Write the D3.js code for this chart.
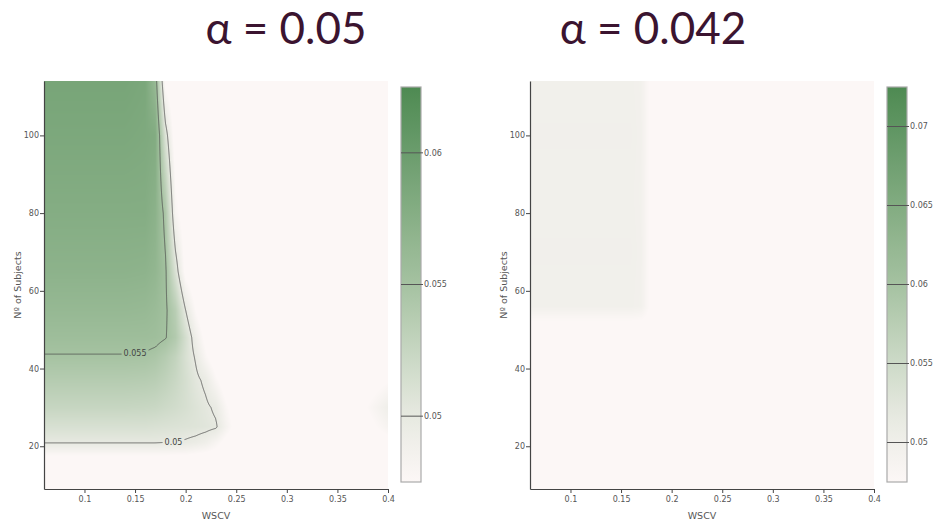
<!DOCTYPE html>
<html>
<head>
<meta charset="utf-8">
<script src="https://cdn.jsdelivr.net/npm/d3@7"></script>
<style>
body { margin: 0; background: #fff; }
</style>
</head>
<body>
<div id="canvas"></div>
<script>
"use strict"

let svgWidth = 933
let svgHeight = 524

let plotTop = 81
let plotBottom = 489
let plotWidth = 344

// ---- data ----
let xTicks = [0.1, 0.15, 0.2, 0.25, 0.3, 0.35, 0.4]
let yTicks = [20, 40, 60, 80, 100]
let wscvDomain = [0.06, 0.4]
let subjectsDomain = [9, 114]

// left panel (alpha = 0.05)
let titleLeft = "α = 0.05"
let rangeLeft = [0.0475, 0.0625]
let levelsLeft = [0.05, 0.055, 0.06]
let wscvLeft = [0.06, 0.10, 0.14, 0.16, 0.17, 0.18, 0.19, 0.20, 0.21, 0.22, 0.23, 0.24, 0.25, 0.28, 0.32, 0.36, 0.38, 0.40]
let subjectsLeft = [9, 16, 18, 21, 25, 30, 37, 43, 48, 55, 65, 80, 100, 114]
let powerLeft = [
    [0.0440, 0.0440, 0.0440, 0.0440, 0.0440, 0.0440, 0.0440, 0.0440, 0.0440, 0.0440, 0.0440, 0.0440, 0.0440, 0.0440, 0.0440, 0.0440, 0.0440, 0.0440],
    [0.0466, 0.0466, 0.0466, 0.0466, 0.0466, 0.0466, 0.0466, 0.0466, 0.0465, 0.0464, 0.0462, 0.0460, 0.0460, 0.0460, 0.0460, 0.0460, 0.0460, 0.0462],
    [0.0478, 0.0478, 0.0478, 0.0478, 0.0478, 0.0478, 0.0477, 0.0477, 0.0475, 0.0473, 0.0470, 0.0466, 0.0462, 0.0460, 0.0460, 0.0460, 0.0460, 0.0465],
    [0.0501, 0.0501, 0.0501, 0.0501, 0.0501, 0.0500, 0.0500, 0.0498, 0.0495, 0.0490, 0.0481, 0.0470, 0.0463, 0.0460, 0.0460, 0.0460, 0.0462, 0.0470],
    [0.0512, 0.0512, 0.0512, 0.0512, 0.0511, 0.0510, 0.0509, 0.0508, 0.0507, 0.0505, 0.0502, 0.0484, 0.0469, 0.0460, 0.0460, 0.0460, 0.0470, 0.0482],
    [0.0525, 0.0525, 0.0525, 0.0524, 0.0523, 0.0520, 0.0517, 0.0513, 0.0508, 0.0503, 0.0497, 0.0478, 0.0466, 0.0460, 0.0460, 0.0460, 0.0476, 0.0490],
    [0.0538, 0.0538, 0.0538, 0.0537, 0.0535, 0.0530, 0.0523, 0.0514, 0.0504, 0.0496, 0.0478, 0.0465, 0.0460, 0.0460, 0.0460, 0.0460, 0.0466, 0.0474],
    [0.0549, 0.0549, 0.0549, 0.0548, 0.0545, 0.0538, 0.0528, 0.0512, 0.0498, 0.0478, 0.0465, 0.0460, 0.0460, 0.0460, 0.0460, 0.0460, 0.0460, 0.0460],
    [0.0556, 0.0556, 0.0556, 0.0556, 0.0555, 0.0551, 0.0540, 0.0515, 0.0490, 0.0470, 0.0460, 0.0460, 0.0460, 0.0460, 0.0460, 0.0460, 0.0460, 0.0460],
    [0.0563, 0.0563, 0.0563, 0.0562, 0.0559, 0.0553, 0.0535, 0.0500, 0.0475, 0.0460, 0.0460, 0.0460, 0.0460, 0.0460, 0.0460, 0.0460, 0.0460, 0.0460],
    [0.0571, 0.0571, 0.0571, 0.0570, 0.0566, 0.0553, 0.0510, 0.0470, 0.0460, 0.0460, 0.0460, 0.0460, 0.0460, 0.0460, 0.0460, 0.0460, 0.0460, 0.0460],
    [0.0578, 0.0578, 0.0578, 0.0578, 0.0572, 0.0544, 0.0481, 0.0465, 0.0460, 0.0460, 0.0460, 0.0460, 0.0460, 0.0460, 0.0460, 0.0460, 0.0460, 0.0460],
    [0.0585, 0.0585, 0.0585, 0.0583, 0.0580, 0.0509, 0.0465, 0.0460, 0.0460, 0.0460, 0.0460, 0.0460, 0.0460, 0.0460, 0.0460, 0.0460, 0.0460, 0.0460],
    [0.0589, 0.0589, 0.0589, 0.0586, 0.0562, 0.0470, 0.0460, 0.0460, 0.0460, 0.0460, 0.0460, 0.0460, 0.0460, 0.0460, 0.0460, 0.0460, 0.0460, 0.0460]
]
let labelsLeft = [
    { level: 0.055, text: "0.055", at: 0.150 },
    { level: 0.05, text: "0.05", at: 0.188 }
]

// right panel (alpha = 0.042)
let titleRight = "α = 0.042"
let rangeRight = [0.0475, 0.0725]
let levelsRight = [0.05, 0.055, 0.06, 0.065, 0.07]
let wscvRight = [0.06, 0.10, 0.14, 0.16, 0.17, 0.175, 0.18, 0.25, 0.32, 0.40]
let subjectsRight = [9, 50, 52, 56, 70, 85, 100, 114]
let powerRight = [
    [0.0470, 0.0470, 0.0470, 0.0470, 0.0470, 0.0470, 0.0470, 0.0470, 0.0470, 0.0470],
    [0.0470, 0.0470, 0.0470, 0.0470, 0.0470, 0.0470, 0.0470, 0.0470, 0.0470, 0.0470],
    [0.0474, 0.0474, 0.0474, 0.0474, 0.0473, 0.0471, 0.0470, 0.0470, 0.0470, 0.0470],
    [0.0497, 0.0497, 0.0497, 0.0497, 0.0494, 0.0482, 0.0470, 0.0470, 0.0470, 0.0470],
    [0.0498, 0.0498, 0.0498, 0.0498, 0.0495, 0.0482, 0.0470, 0.0470, 0.0470, 0.0470],
    [0.0497, 0.0497, 0.0497, 0.0497, 0.0494, 0.0482, 0.0470, 0.0470, 0.0470, 0.0470],
    [0.0498, 0.0498, 0.0498, 0.0498, 0.0495, 0.0482, 0.0470, 0.0470, 0.0470, 0.0470],
    [0.0497, 0.0497, 0.0497, 0.0497, 0.0494, 0.0482, 0.0470, 0.0470, 0.0470, 0.0470]
]
let labelsRight = []

// colour ramp, as fractions of each colorbar's range
let colorStops = [0, 0.17, 0.5, 1]
let colorRamp = ["#fcf7f6", "#e7e9e1", "#a5c2a1", "#4e8a52"]

let svg = d3.select("#canvas")
    .append("svg")
    .attr("width", svgWidth)
    .attr("height", svgHeight)
    .style("display", "block")
    .style("font-family", "'DejaVu Sans', Verdana, sans-serif")

let defs = svg.append("defs")

drawPanel(svg, {
    id: "L", left: 44, cbX: 401, titleX: 286, title: titleLeft,
    xs: wscvLeft, ys: subjectsLeft, z: powerLeft,
    range: rangeLeft, levels: levelsLeft, labels: labelsLeft
})

drawPanel(svg, {
    id: "R", left: 530, cbX: 887, titleX: 653, title: titleRight,
    xs: wscvRight, ys: subjectsRight, z: powerRight,
    range: rangeRight, levels: levelsRight, labels: labelsRight
})


function makeColor(range) {
    let lo = range[0], hi = range[1]
    return d3.scaleLinear()
        .domain(colorStops.map(t => lo + t * (hi - lo)))
        .range(colorRamp)
        .clamp(true)
}

// bilinear lookup on the (possibly uneven) grid, like a smoothed heatmap
function bilinear(xs, ys, z) {
    return function (x, y) {
        x = Math.max(xs[0], Math.min(xs[xs.length - 1], x))
        y = Math.max(ys[0], Math.min(ys[ys.length - 1], y))
        let i = Math.min(Math.max(d3.bisectRight(xs, x) - 1, 0), xs.length - 2)
        let j = Math.min(Math.max(d3.bisectRight(ys, y) - 1, 0), ys.length - 2)
        let tx = (x - xs[i]) / (xs[i + 1] - xs[i])
        let ty = (y - ys[j]) / (ys[j + 1] - ys[j])
        return z[j][i] * (1 - tx) * (1 - ty) + z[j][i + 1] * tx * (1 - ty) +
            z[j + 1][i] * (1 - tx) * ty + z[j + 1][i + 1] * tx * ty
    }
}

function drawPanel(drawing, p) {

    let xScale = d3.scaleLinear().domain(wscvDomain).range([p.left, p.left + plotWidth])
    let yScale = d3.scaleLinear().domain(subjectsDomain).range([plotBottom, plotTop])
    let color = makeColor(p.range)
    let value = bilinear(p.xs, p.ys, p.z)
    let w = plotWidth
    let h = plotBottom - plotTop

    /* heatmap raster */
    let cnv = document.createElement("canvas")
    cnv.width = w
    cnv.height = h
    let ctx = cnv.getContext("2d")
    let img = ctx.createImageData(w, h)
    for (let py = 0; py < h; py++) {
        let y = yScale.invert(plotTop + py + 0.5)
        for (let px = 0; px < w; px++) {
            let c = d3.rgb(color(value(xScale.invert(p.left + px + 0.5), y)))
            let k = (py * w + px) * 4
            img.data[k] = c.r
            img.data[k + 1] = c.g
            img.data[k + 2] = c.b
            img.data[k + 3] = 255
        }
    }
    ctx.putImageData(img, 0, 0)

    drawing.append("image")
        .attr("x", p.left)
        .attr("y", plotTop)
        .attr("width", w)
        .attr("height", h)
        .attr("preserveAspectRatio", "none")
        .attr("href", cnv.toDataURL())

    /* contour lines (grid a bit larger than the plot so edges fall outside) */
    let pad = 4
    let gw = w + 2 * pad, gh = h + 2 * pad
    let grid = new Float64Array(gw * gh)
    for (let j = 0; j < gh; j++) {
        let y = yScale.invert(plotTop - pad + j + 0.5)
        for (let i = 0; i < gw; i++) {
            grid[j * gw + i] = value(xScale.invert(p.left - pad + i + 0.5), y)
        }
    }
    let contours = d3.contours().size([gw, gh]).thresholds(p.levels)(grid)

    defs.append("clipPath")
        .attr("id", "clip" + p.id)
        .append("rect")
        .attr("x", p.left)
        .attr("y", plotTop)
        .attr("width", w)
        .attr("height", h)

    let mask = defs.append("mask")
        .attr("id", "mask" + p.id)
        .attr("maskUnits", "userSpaceOnUse")
        .attr("x", 0).attr("y", 0)
        .attr("width", svgWidth).attr("height", svgHeight)
    mask.append("rect")
        .attr("width", svgWidth)
        .attr("height", svgHeight)
        .attr("fill", "white")

    let lineGroup = drawing.append("g")
        .attr("clip-path", `url(#clip${p.id})`)
        .append("g")
        .attr("mask", `url(#mask${p.id})`)

    lineGroup.append("g")
        .attr("transform", `translate(${p.left - pad},${plotTop - pad})`)
        .selectAll("path")
        .data(contours)
        .enter()
        .append("path")
        .attr("d", d3.geoPath())
        .attr("fill", "none")
        .attr("stroke", "#4a4a4a")
        .attr("stroke-width", 0.9)
        .attr("stroke-opacity", 0.85)

    /* contour labels, sitting on the lowest crossing near the chosen WSCV */
    p.labels.forEach(function (lab) {
        let c = contours.find(d => Math.abs(d.value - lab.level) < 1e-9)
        if (!c) return
        let tx = xScale(lab.at)
        let best = null
        c.coordinates.forEach(poly => poly.forEach(ring => ring.forEach(function (pt) {
            let px = pt[0] + p.left - pad
            let py = pt[1] + plotTop - pad
            if (py < plotTop || py > plotBottom) return
            if (Math.abs(px - tx) > 2) return
            if (!best || py > best[1]) best = [px, py]
        })))
        if (!best) return

        let t = drawing.append("text")
            .attr("x", tx)
            .attr("y", best[1])
            .attr("dy", "0.35em")
            .attr("text-anchor", "middle")
            .attr("font-size", 8)
            .attr("fill", "#444")
            .text(lab.text)
        let tw = t.node().getComputedTextLength()
        mask.append("rect")
            .attr("x", tx - tw / 2 - 2)
            .attr("y", best[1] - 5)
            .attr("width", tw + 4)
            .attr("height", 10)
            .attr("fill", "black")
    })

    /* axes */
    let xAxis = d3.axisBottom(xScale)
        .tickValues(xTicks)
        .tickSize(4)
        .tickSizeOuter(0)
        .tickFormat(d => String(d))
    let yAxis = d3.axisLeft(yScale)
        .tickValues(yTicks)
        .tickSize(4)
        .tickSizeOuter(0)
        .tickFormat(d => String(d))

    let gx = drawing.append("g")
        .attr("transform", `translate(0,${plotBottom})`)
        .call(xAxis)
    let gy = drawing.append("g")
        .attr("transform", `translate(${p.left},0)`)
        .call(yAxis)

    ;[gx, gy].forEach(function (g) {
        g.attr("font-family", null).attr("font-size", 8)
        g.select(".domain").attr("stroke", "#444").attr("stroke-width", 1.2)
        g.selectAll(".tick line").attr("stroke", "#444")
        g.selectAll(".tick text").attr("fill", "#555")
    })
    gx.selectAll(".tick text").attr("y", 7)
    gy.selectAll(".tick text").attr("x", -5)

    drawing.append("text")
        .attr("x", p.left + w / 2)
        .attr("y", 519)
        .attr("text-anchor", "middle")
        .attr("font-size", 9.5)
        .attr("fill", "#555")
        .text("WSCV")

    drawing.append("text")
        .attr("transform", "rotate(-90)")
        .attr("x", -(plotTop + h / 2))
        .attr("y", p.left - 26)
        .attr("dy", "0.35em")
        .attr("text-anchor", "middle")
        .attr("font-size", 9.5)
        .attr("fill", "#555")
        .text("Nº of Subjects")

    /* title */
    drawing.append("text")
        .attr("x", p.titleX)
        .attr("y", 44)
        .attr("text-anchor", "middle")
        .attr("font-family", "Lato, 'Open Sans', sans-serif")
        .attr("font-size", 44)
        .attr("fill", "#3b1430")
        .text(p.title)

    /* colorbar */
    let cbTop = 87, cbBottom = 482, cbW = 20
    let cbScale = d3.scaleLinear().domain(p.range).range([cbBottom, cbTop])

    let grad = defs.append("linearGradient")
        .attr("id", "grad" + p.id)
        .attr("x1", 0).attr("y1", 1)
        .attr("x2", 0).attr("y2", 0)
    grad.selectAll("stop")
        .data(d3.range(0, 1.0001, 0.05))
        .enter()
        .append("stop")
        .attr("offset", d => d)
        .attr("stop-color", d => color(p.range[0] + d * (p.range[1] - p.range[0])))

    drawing.append("rect")
        .attr("x", p.cbX)
        .attr("y", cbTop)
        .attr("width", cbW)
        .attr("height", cbBottom - cbTop)
        .attr("fill", `url(#grad${p.id})`)
        .attr("stroke", "#aaa")
        .attr("stroke-width", 1.2)

    let cbTicks = drawing.append("g")
    cbTicks.selectAll("line")
        .data(p.levels)
        .enter()
        .append("line")
        .attr("x1", p.cbX)
        .attr("x2", p.cbX + cbW + 2)
        .attr("y1", d => cbScale(d))
        .attr("y2", d => cbScale(d))
        .attr("stroke", "#555")
        .attr("stroke-width", 1)
    cbTicks.selectAll("text")
        .data(p.levels)
        .enter()
        .append("text")
        .attr("x", p.cbX + cbW + 3)
        .attr("y", d => cbScale(d))
        .attr("dy", "0.35em")
        .attr("font-size", 8)
        .attr("fill", "#555")
        .text(d => String(d))
}
</script>
</body>
</html>
